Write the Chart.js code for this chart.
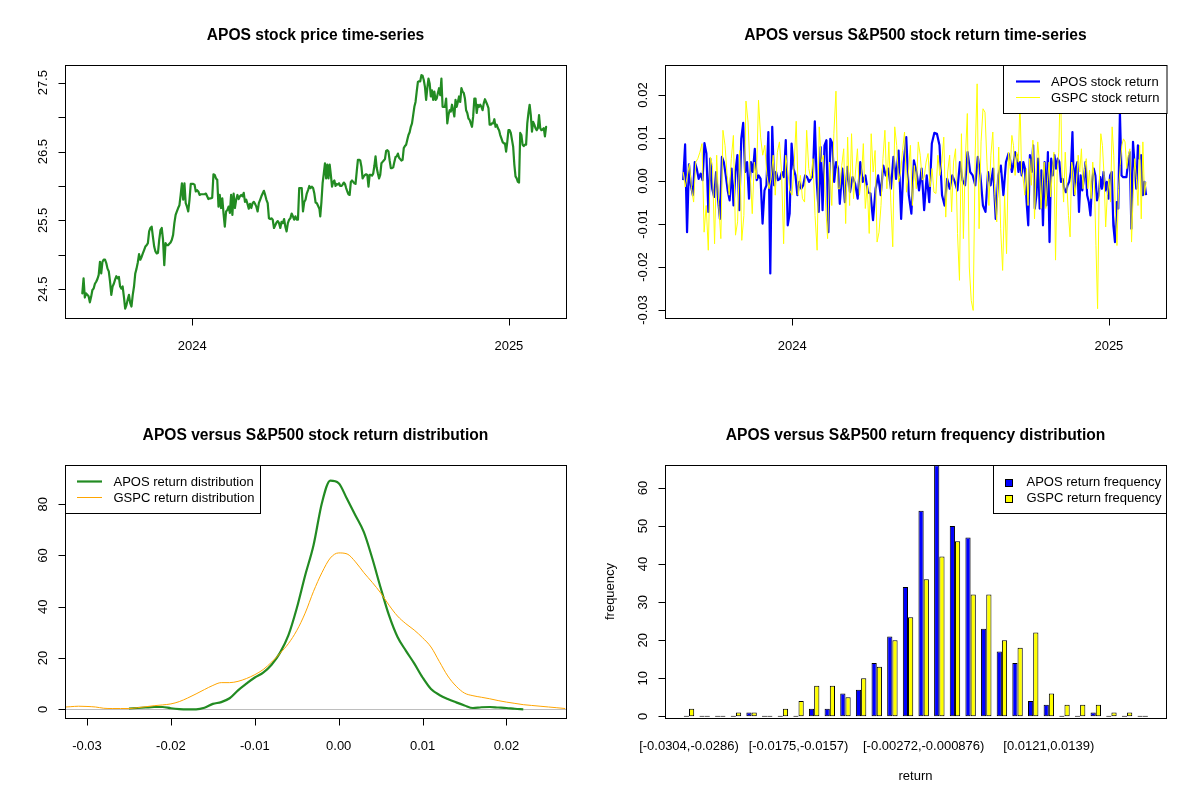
<!DOCTYPE html>
<html lang="en">
<head>
<meta charset="UTF-8">
<title>APOS versus S&amp;P500</title>
<script src="https://cdn.jsdelivr.net/npm/chart.js@4.4.1/dist/chart.umd.min.js"></script>
<style>
    * { margin: 0; padding: 0; box-sizing: border-box; }
    body { width: 1200px; height: 800px; background: #fff; overflow: hidden; position: relative; }
    .panel { position: absolute; width: 600px; height: 400px; }
    canvas { display: block; }
</style>
</head>
<body>
<div class="panel" style="left:0;top:0"><canvas id="priceChart" width="600" height="400"></canvas></div>
<div class="panel" style="left:600px;top:0"><canvas id="returnChart" width="600" height="400"></canvas></div>
<div class="panel" style="left:0;top:400px"><canvas id="densityChart" width="600" height="400"></canvas></div>
<div class="panel" style="left:600px;top:400px"><canvas id="freqChart" width="600" height="400"></canvas></div>

<script>
// ---------- data ----------
// APOS closing price, two stretches (values spread evenly between the dates)
const priceDatesA = ['2023-08-27', '2024-05-27'];
const priceA = [
    24.44, 24.66, 24.38, 24.44, 24.42, 24.40, 24.31, 24.39, 24.49, 24.51,
    24.58, 24.61, 24.65, 24.71, 24.90, 24.73, 24.90, 24.93, 24.93, 24.88,
    24.80, 24.76, 24.61, 24.42, 24.54, 24.58, 24.64, 24.69, 24.66, 24.68,
    24.54, 24.51, 24.54, 24.39, 24.22, 24.27, 24.35, 24.42, 24.30, 24.25,
    24.42, 24.54, 24.73, 24.80, 24.89, 25.01, 24.93, 24.97, 25.02, 25.07,
    25.12, 25.14, 25.17, 25.34, 25.39, 25.41, 25.26, 25.12, 25.05, 25.02,
    25.03, 25.22, 25.36, 25.39, 25.22, 24.85, 25.17, 25.14, 25.14, 25.16,
    25.18, 25.22, 25.29, 25.46, 25.58, 25.63, 25.68, 25.72, 25.87, 26.04,
    25.80, 26.04, 25.75, 25.70, 25.63, 25.80, 26.03, 26.03, 26.03, 26.02,
    25.92, 25.94, 25.92, 25.87, 25.88, 25.88, 25.88, 25.88, 25.89, 25.85,
    25.81, 25.82, 25.82, 25.83, 26.17, 26.16, 26.11, 26.09, 25.70, 25.87,
    25.68, 25.82, 25.60, 25.41, 25.63, 25.65, 25.70, 25.61, 25.87, 25.58,
    25.89, 25.68, 25.80, 25.87, 25.81, 25.85, 25.87, 25.85, 25.90, 25.77,
    25.80, 25.74, 25.67, 25.74, 25.68, 25.75, 25.77, 25.74, 25.70, 25.63,
    25.75, 25.80, 25.85, 25.89, 25.93, 25.87, 25.80, 25.75, 25.53, 25.52,
    25.53, 25.51, 25.39, 25.43, 25.47, 25.49, 25.46, 25.39, 25.48, 25.46,
    25.52, 25.41, 25.34, 25.46, 25.51, 25.53, 25.60, 25.56, 25.51, 25.56,
    25.51, 25.51, 25.97, 25.97, 25.97, 25.63, 25.77, 25.80, 25.89, 25.94,
    26.00, 25.97, 25.99, 25.97, 25.89, 25.76, 25.75, 25.71, 25.67
];
const priceDatesB = ['2024-05-28', '2025-02-13'];
const priceB = [
    25.56, 25.77, 26.04, 26.18, 26.33, 26.11, 26.31, 26.11, 26.31, 26.16,
    25.99, 26.06, 26.08, 26.00, 26.03, 26.02, 26.04, 26.00, 26.00, 26.02,
    26.05, 26.03, 25.97, 25.92, 25.88, 25.87, 26.06, 26.08, 26.06, 26.04,
    26.03, 26.21, 26.38, 26.38, 26.37, 26.28, 26.11, 26.14, 26.16, 26.17,
    26.16, 25.99, 26.16, 26.16, 26.15, 26.18, 26.29, 26.43, 26.26, 26.18,
    26.11, 26.16, 26.33, 26.35, 26.37, 26.39, 26.51, 26.52, 26.50, 26.37,
    26.26, 26.26, 26.27, 26.35, 26.42, 26.43, 26.47, 26.41, 26.39, 26.37,
    26.38, 26.55, 26.58, 26.60, 26.67, 26.74, 26.78, 26.86, 26.91, 27.03,
    27.15, 27.22, 27.37, 27.51, 27.52, 27.52, 27.61, 27.60, 27.54, 27.44,
    27.25, 27.42, 27.56, 27.49, 27.30, 27.39, 27.25, 27.37, 27.25, 27.27,
    27.35, 27.42, 27.32, 27.56, 27.15, 27.15, 27.15, 27.27, 26.91, 27.03,
    27.10, 27.08, 27.18, 27.10, 27.01, 27.25, 27.15, 27.22, 27.30, 27.22,
    27.42, 27.37, 27.35, 27.27, 27.10, 27.06, 26.98, 26.96, 26.91, 26.86,
    27.01, 27.27, 27.27, 27.06, 27.18, 27.15, 27.18, 27.15, 27.10, 27.20,
    27.26, 27.22, 27.18, 27.13, 26.89, 26.89, 26.91, 26.91, 26.97, 26.86,
    26.89, 26.84, 26.81, 26.74, 26.69, 26.64, 26.62, 26.62, 26.50, 26.64,
    26.81, 26.81, 26.77, 26.67, 26.57, 26.31, 26.14, 26.11, 26.06, 26.05,
    26.77, 26.74, 26.60, 26.58, 26.60, 26.60, 26.91, 27.06, 27.18, 27.03,
    26.79, 26.93, 26.89, 26.84, 26.81, 26.84, 27.03, 26.84, 26.81, 26.82,
    26.84, 26.72, 26.86
];

// daily returns, three stretches
const retDates = [['2023-08-28', '2024-02-23'], ['2024-02-25', '2024-09-07'], ['2024-09-09', '2025-02-13']];
const aposRet1 = [
    0.0002, 0.0085, -0.0119, 0.0039, -0.0010, -0.0033, 0.0044, 0.0029, 0.0005, 0.0017,
    0.0002, 0.0088, 0.0064, -0.0072, 0.0052, -0.0018, -0.0037, 0.0021, -0.0041, -0.0088,
    0.0056, 0.0044, 0.0013, -0.0022, -0.0045, 0.0029, -0.0057, 0.0021, 0.0060, -0.0068,
    0.0098, 0.0135, 0.0021, 0.0044, -0.0041, 0.0044, 0.0021, 0.0075, 0.0002, 0.0013,
    0.0005, -0.0099, -0.0022, -0.0010, 0.0114, -0.0215, 0.0126, -0.0010, 0.0021, 0.0002,
    0.0005, 0.0021, 0.0009, 0.0095, -0.0103, -0.0076, 0.0087, 0.0029, 0.0013, -0.0033,
    -0.0002, -0.0018, -0.0010, 0.0013, 0.0009, -0.0002, 0.0005, 0.0013, 0.0139, -0.0002,
    -0.0072, 0.0079, -0.0068, 0.0083, 0.0095, -0.0119, 0.0098, 0.0088, -0.0002, 0.0044,
    0.0029
];
const aposRet2 = [
    -0.0053, 0.0029, -0.0049, 0.0033, -0.0026, 0.0009, -0.0006, -0.0041, 0.0044, -0.0002,
    0.0013, -0.0026, -0.0029, -0.0091, -0.0018, 0.0013, -0.0033, 0.0036, 0.0013, 0.0029,
    -0.0018, 0.0056, 0.0005, 0.0071, -0.0088, 0.0044, 0.0102, -0.0033, -0.0076, 0.0048,
    0.0021, -0.0022, 0.0029, -0.0068, 0.0013, -0.0049, 0.0087, 0.0112, 0.0110, 0.0083,
    -0.0033, -0.0057, 0.0005, -0.0018, 0.0013, -0.0002, -0.0022, 0.0044, 0.0002, -0.0010,
    0.0067, 0.0021, 0.0013, -0.0010, 0.0056, 0.0013, -0.0057, -0.0072, 0.0021, -0.0010,
    0.0029, -0.0088, 0.0013, 0.0036, -0.0033, 0.0044, 0.0064
];
const aposRet3 = [
    0.0048, 0.0021, 0.0040, 0.0067, 0.0060, 0.0021, 0.0044, 0.0013, 0.0044, 0.0029,
    -0.0049, -0.0103, 0.0060, 0.0021, 0.0083, -0.0064, -0.0033, 0.0052, -0.0064, 0.0025,
    -0.0103, 0.0044, -0.0057, 0.0067, -0.0142, 0.0052, 0.0013, 0.0060, 0.0029, 0.0052,
    0.0044, -0.0002, 0.0005, -0.0018, -0.0026, -0.0010, -0.0002, 0.0021, 0.0114, -0.0033,
    0.0029, 0.0044, -0.0072, 0.0013, -0.0022, 0.0005, 0.0044, -0.0033, -0.0049, -0.0080,
    -0.0002, 0.0029, 0.0013, -0.0045, -0.0033, 0.0009, -0.0018, 0.0021, -0.0022, -0.0002,
    -0.0041, 0.0013, 0.0021, -0.0103, -0.0142, -0.0049, -0.0064, 0.0160, 0.0013, 0.0009,
    0.0009, 0.0009, 0.0044, 0.0067, -0.0111, 0.0091, 0.0036, -0.0018, 0.0083, 0.0052,
    0.0060, -0.0033, -0.0002, -0.0033
];
const gspcRet1 = [
    0.0021, -0.0014, 0.0013, 0.0040, -0.0018, -0.0049, 0.0044, 0.0052, 0.0067, 0.0087,
    -0.0119, -0.0057, -0.0161, 0.0056, 0.0036, -0.0146, 0.0060, -0.0057, -0.0134, 0.0118,
    0.0083, 0.0013, -0.0033, 0.0052, 0.0106, -0.0126, -0.0095, 0.0071, -0.0138, -0.0080,
    0.0186, 0.0137, 0.0021, -0.0076, 0.0044, 0.0005, 0.0188, 0.0102, 0.0060, 0.0083,
    0.0013, -0.0018, 0.0005, 0.0060, -0.0033, 0.0067, 0.0091, 0.0021, -0.0146, 0.0060,
    0.0021, -0.0022, -0.0033, 0.0036, 0.0139, -0.0033, 0.0013, -0.0041, -0.0049, 0.0118,
    0.0029, 0.0005, 0.0052, -0.0080, -0.0161, 0.0126, 0.0044, 0.0060, -0.0049, -0.0134,
    0.0044, -0.0057, 0.0110, 0.0209, -0.0018
];
const gspcRet2 = [
    -0.0018, 0.0036, 0.0075, -0.0099, 0.0102, -0.0057, 0.0110, -0.0041, 0.0021, 0.0075,
    -0.0033, 0.0005, 0.0087, -0.0064, -0.0010, -0.0122, 0.0110, 0.0021, 0.0071, -0.0142,
    -0.0119, -0.0057, 0.0052, 0.0118, -0.0018, 0.0091, -0.0049, -0.0153, 0.0126, 0.0083,
    -0.0002, 0.0021, 0.0071, 0.0114, -0.0026, 0.0021, 0.0083, -0.0057, 0.0036, -0.0018,
    0.0091, 0.0060, 0.0002, 0.0009, 0.0044, 0.0064, -0.0014, 0.0029, -0.0026, -0.0029,
    0.0060, 0.0013, 0.0044, 0.0102, -0.0084, 0.0021, 0.0060, -0.0072, 0.0044, 0.0075,
    -0.0122, -0.0231, 0.0110, -0.0134, 0.0052, 0.0157, -0.0200, -0.0278, -0.0301, 0.0060,
    0.0226, -0.0111, 0.0091, 0.0168, 0.0160, 0.0044, -0.0057, 0.0060, 0.0114, -0.0033,
    -0.0095, 0.0079, -0.0111, -0.0208, -0.0033, -0.0169, 0.0067
];
const gspcRet3 = [
    0.0029, 0.0106, 0.0083, 0.0013, 0.0067, 0.0044, 0.0190, 0.0021, 0.0005, -0.0033,
    0.0029, -0.0057, 0.0052, -0.0010, 0.0095, -0.0088, 0.0021, 0.0091, 0.0044, -0.0064,
    0.0005, 0.0044, -0.0064, -0.0002, 0.0044, -0.0037, 0.0021, 0.0067, -0.0184, 0.0021,
    0.0067, 0.0245, 0.0021, -0.0049, 0.0067, -0.0010, -0.0080, -0.0130, 0.0044, 0.0021,
    -0.0033, -0.0002, 0.0060, 0.0021, 0.0075, -0.0018, 0.0029, 0.0052, -0.0018, 0.0025,
    -0.0041, 0.0044, -0.0002, -0.0150, -0.0297, -0.0018, 0.0110, 0.0083, 0.0013, -0.0107,
    -0.0033, 0.0005, -0.0049, 0.0126, 0.0060, -0.0072, -0.0150, -0.0018, 0.0036, 0.0083,
    0.0098, 0.0091, 0.0029, 0.0060, 0.0075, -0.0142, -0.0033, 0.0052, 0.0005, -0.0057,
    0.0083, -0.0088, 0.0091, -0.0033, -0.0002
];

// kernel density estimates
const densX = [
    -0.033, -0.032, -0.031, -0.030, -0.029, -0.028, -0.027, -0.026, -0.025, -0.024,
    -0.023, -0.022, -0.021, -0.020, -0.019, -0.018, -0.017, -0.016, -0.015, -0.014,
    -0.013, -0.012, -0.011, -0.010, -0.009, -0.008, -0.007, -0.006, -0.005, -0.004,
    -0.003, -0.002, -0.001, 0.000, 0.001, 0.002, 0.003, 0.004, 0.005, 0.006,
    0.007, 0.008, 0.009, 0.010, 0.011, 0.012, 0.013, 0.014, 0.015, 0.016,
    0.017, 0.018, 0.019, 0.020, 0.021, 0.022, 0.023, 0.024, 0.025, 0.026, 0.027
];
const aposDens = [
    null, null, null, null, null, null, null, null, 0.3, 0.5,
    0.7, 0.9, 0.9, 0.4, 0.1, 0.0, 0.0, 0.6, 2.1, 2.8,
    4.3, 7.4, 10.0, 12.4, 14.3, 17.4, 22.0, 28.8, 39.4, 52.2,
    64.0, 80.5, 89.2, 88.2, 82.0, 75.6, 69.1, 58.9, 47.4, 36.6,
    28.3, 22.9, 17.9, 12.4, 7.9, 5.6, 4.0, 2.7, 1.5, 0.5,
    0.8, 0.9, 0.7, 0.5, 0.2, 0.0, null, null, null, null, null
];
const gspcDens = [
    0.8, 1.0, 1.2, 1.1, 0.9, 0.4, 0.3, 0.3, 0.3, 0.6,
    1.0, 1.4, 1.7, 2.1, 3.0, 4.4, 6.0, 7.7, 9.3, 10.4,
    10.4, 10.9, 12.0, 13.5, 15.5, 18.4, 21.8, 25.6, 30.7, 37.5,
    46.0, 53.3, 59.0, 61.0, 60.6, 57.5, 53.3, 49.5, 45.4, 40.6,
    36.4, 33.4, 30.9, 27.9, 24.3, 18.6, 13.0, 9.0, 6.3, 5.3,
    4.7, 4.1, 3.4, 2.8, 2.3, 1.8, 1.5, 1.2, 0.9, 0.6, 0.3
];

// return frequency per bin
const binEdges = [
    '-0.0304', '-0.0286', '-0.0267', '-0.0249', '-0.023', '-0.0212', '-0.0193', '-0.0175',
    '-0.0157', '-0.0138', '-0.012', '-0.0101', '-0.00827', '-0.00642', '-0.00458', '-0.00272',
    '-0.000876', '0.000968', '0.00281', '0.00465', '0.00649', '0.00834', '0.0102', '0.0121',
    '0.0139', '0.0157', '0.0176', '0.0194', '0.0213', '0.0231', '0.025'
];
const aposFreq = [0, 0, 0, 0, 1, 0, 0, 0, 2, 2, 6, 7, 14, 21, 34, 54, 66, 50, 47, 23, 17, 14, 4, 3, 0, 0, 1, 0, 0, 0];
const gspcFreq = [2, 0, 0, 1, 1, 0, 2, 4, 8, 8, 5, 10, 13, 20, 26, 36, 42, 46, 32, 32, 20, 18, 22, 6, 3, 3, 3, 1, 1, 0];
const shownBins = [1, 8, 16, 24];

// axis ticks
const yearTicks = ['2024-01-01', '2025-01-01'];
const yearLabels = ['2024', '2025'];
const priceTicks = [24.5, 25, 25.5, 26, 26.5, 27, 27.5];
const priceTickLabels = ['24.5', '', '25.5', '', '26.5', '', '27.5'];
const retTicks = [-0.03, -0.02, -0.01, 0, 0.01, 0.02];
const retTickLabels = ['-0.03', '-0.02', '-0.01', '0.00', '0.01', '0.02'];
const densTicks = [0, 20, 40, 60, 80];
const freqTicks = [0, 10, 20, 30, 40, 50, 60];

// ---------- drawing ----------
const FONT = '"Liberation Sans", Arial, Helvetica, sans-serif';
const AREA = { left: 65, top: 65, right: 566, bottom: 318 };
const PAD = { left: AREA.left, top: AREA.top, right: 600 - AREA.right, bottom: 400 - AREA.bottom };
const timeRange = ['2023-08-07', '2025-03-08'];

function ms(d) { return Date.parse(d + 'T00:00:00Z'); }

function spread(values, dates) {
    const t0 = ms(dates[0]), t1 = ms(dates[1]), n = values.length;
    return values.map((v, i) => ({ x: t0 + (t1 - t0) * i / (n - 1), y: v }));
}

function baseOptions(xr, yr) {
    return {
        responsive: false,
        animation: false,
        devicePixelRatio: 1,
        layout: { padding: PAD },
        plugins: { legend: { display: false }, tooltip: { enabled: false } },
        scales: {
            x: { type: 'linear', display: false, min: xr[0], max: xr[1], offset: false },
            y: { type: 'linear', display: false, min: yr[0], max: yr[1] }
        },
        elements: { point: { radius: 0 }, line: { tension: 0 } }
    };
}

// R style box, ticks, labels and legend
function rFrame(spec) {
    return {
        id: 'rFrame',
        beforeDatasetsDraw(chart) {
            if (!spec.zeroLine) return;
            const { ctx, chartArea: a, scales } = chart;
            const py = Math.round(scales.y.getPixelForValue(0)) + 0.5;
            ctx.save();
            ctx.strokeStyle = '#BEBEBE';
            ctx.lineWidth = 1;
            ctx.beginPath();
            ctx.moveTo(a.left, py);
            ctx.lineTo(a.right, py);
            ctx.stroke();
            ctx.restore();
        },
        afterDraw(chart) {
            const { ctx, chartArea: a, scales } = chart;
            const L = Math.round(a.left) + 0.5, T = Math.round(a.top) + 0.5;
            const R = Math.round(a.right) + 0.5, B = Math.round(a.bottom) + 0.5;
            const cx = (a.left + a.right) / 2;
            ctx.save();
            ctx.fillStyle = '#000';
            ctx.strokeStyle = '#000';
            ctx.lineWidth = 1;

            // title
            ctx.font = 'bold 15.6px ' + FONT;
            ctx.textAlign = 'center';
            ctx.textBaseline = 'alphabetic';
            ctx.fillText(spec.title, cx, 40);

            ctx.font = '13px ' + FONT;
            // x axis
            spec.xTicks.forEach((v, i) => {
                const px = scales.x.getPixelForValue(v);
                if (spec.xTickMarks !== false) {
                    const xx = Math.round(px) + 0.5;
                    ctx.beginPath(); ctx.moveTo(xx, B); ctx.lineTo(xx, B + 7); ctx.stroke();
                }
                if (spec.xLabels[i]) ctx.fillText(spec.xLabels[i], px, 350);
            });
            // y axis, rotated labels
            spec.yTicks.forEach((v, i) => {
                const py = scales.y.getPixelForValue(v);
                const yy = Math.round(py) + 0.5;
                ctx.beginPath(); ctx.moveTo(L - 7, yy); ctx.lineTo(L, yy); ctx.stroke();
                if (spec.yLabels[i]) {
                    ctx.save();
                    ctx.translate(46.5, py);
                    ctx.rotate(-Math.PI / 2);
                    ctx.fillText(spec.yLabels[i], 0, 0);
                    ctx.restore();
                }
            });
            if (spec.xTitle) ctx.fillText(spec.xTitle, cx, 380);
            if (spec.yTitle) {
                ctx.save();
                ctx.translate(14, (a.top + a.bottom) / 2);
                ctx.rotate(-Math.PI / 2);
                ctx.fillText(spec.yTitle, 0, 0);
                ctx.restore();
            }

            // box
            ctx.strokeRect(L, T, R - L, B - T);

            // legend
            const lg = spec.legend;
            if (lg) {
                const lx = Math.round(lg.left) + 0.5, ly = T;
                ctx.fillStyle = '#fff';
                ctx.fillRect(lx, ly, lg.width, 48);
                ctx.strokeStyle = '#000';
                ctx.strokeRect(lx, ly, lg.width, 48);
                ctx.textAlign = 'left';
                ctx.textBaseline = 'middle';
                lg.items.forEach((it, k) => {
                    const ry = ly + 16.5 + k * 16;
                    if (it.kind === 'box') {
                        ctx.fillStyle = it.color;
                        ctx.fillRect(lx + 12, Math.round(ry - 3.5) + 0.5, 7, 7);
                        ctx.strokeStyle = '#000';
                        ctx.strokeRect(lx + 12, Math.round(ry - 3.5) + 0.5, 7, 7);
                    } else {
                        ctx.strokeStyle = it.color;
                        ctx.lineWidth = it.lineWidth;
                        ctx.beginPath();
                        ctx.moveTo(lx + lg.lineFrom, ry - 0.5);
                        ctx.lineTo(lx + lg.lineTo, ry - 0.5);
                        ctx.stroke();
                        ctx.lineWidth = 1;
                    }
                    ctx.fillStyle = '#000';
                    ctx.fillText(it.label, lx + lg.textX, ry + 0.5);
                });
            }
            ctx.restore();
        }
    };
}

const timeX = [ms(timeRange[0]), ms(timeRange[1])];
const yearTickValues = yearTicks.map(ms);

// panel 1: price
new Chart(document.getElementById('priceChart'), {
    type: 'line',
    data: {
        datasets: [{
            label: 'APOS',
            data: spread(priceA, priceDatesA).concat(spread(priceB, priceDatesB)),
            borderColor: '#228B22',
            borderWidth: 2.2,
            borderJoinStyle: 'round',
            borderCapStyle: 'round',
            clip: 0
        }]
    },
    options: baseOptions(timeX, [24.083, 27.757]),
    plugins: [rFrame({
        title: 'APOS stock price time-series',
        xTicks: yearTickValues, xLabels: yearLabels,
        yTicks: priceTicks, yLabels: priceTickLabels
    })]
});

// panel 2: returns
function joinSegments(segs) {
    return segs.reduce((all, s, i) => all.concat(spread(s, retDates[i])), []);
}
new Chart(document.getElementById('returnChart'), {
    type: 'line',
    data: {
        datasets: [
            {
                label: 'APOS stock return',
                data: joinSegments([aposRet1, aposRet2, aposRet3]),
                borderColor: '#0000FF',
                borderWidth: 2.2,
                borderJoinStyle: 'round',
                order: 1,
                clip: 0
            },
            {
                label: 'GSPC stock return',
                data: joinSegments([gspcRet1, gspcRet2, gspcRet3]),
                borderColor: '#FFFF00',
                borderWidth: 1,
                order: 0,
                clip: 0
            }
        ]
    },
    options: baseOptions(timeX, [-0.03186, 0.02698]),
    plugins: [rFrame({
        title: 'APOS versus S&P500 stock return time-series',
        xTicks: yearTickValues, xLabels: yearLabels,
        yTicks: retTicks, yLabels: retTickLabels,
        legend: {
            left: 402.5, width: 163.5, lineFrom: 12.5, lineTo: 36.5, textX: 47.5,
            items: [
                { label: 'APOS stock return', color: '#0000FF', lineWidth: 2.2 },
                { label: 'GSPC stock return', color: '#FFFF00', lineWidth: 1 }
            ]
        }
    })]
});

// panel 3: density
new Chart(document.getElementById('densityChart'), {
    type: 'line',
    data: {
        datasets: [
            {
                label: 'APOS return distribution',
                data: densX.map((x, i) => ({ x: x, y: aposDens[i] })),
                borderColor: '#228B22',
                borderWidth: 2.2,
                cubicInterpolationMode: 'monotone',
                order: 1,
                clip: 0
            },
            {
                label: 'GSPC return distribution',
                data: densX.map((x, i) => ({ x: x, y: gspcDens[i] })),
                borderColor: '#FFA500',
                borderWidth: 1,
                cubicInterpolationMode: 'monotone',
                order: 0,
                clip: 0
            }
        ]
    },
    options: baseOptions([-0.032622, 0.027092], [-3.4, 95.3]),
    plugins: [rFrame({
        title: 'APOS versus S&P500 stock return distribution',
        xTicks: retTicks, xLabels: retTickLabels,
        yTicks: densTicks, yLabels: densTicks.map(String),
        zeroLine: true,
        legend: {
            left: 65, width: 195, lineFrom: 11.5, lineTo: 36.5, textX: 48,
            items: [
                { label: 'APOS return distribution', color: '#228B22', lineWidth: 2.2 },
                { label: 'GSPC return distribution', color: '#FFA500', lineWidth: 1 }
            ]
        }
    })]
});

// panel 4: frequency bars
const binLabels = aposFreq.map((_, i) => '[' + binEdges[i] + ',' + binEdges[i + 1] + ')');
const barStyle = {
    borderColor: '#000000',
    borderWidth: 1,
    borderSkipped: false,
    minBarLength: 1,
    categoryPercentage: 2 / 3,
    barPercentage: 1
};
new Chart(document.getElementById('freqChart'), {
    type: 'bar',
    data: {
        datasets: [
            Object.assign({
                label: 'APOS return frequency',
                data: aposFreq.map((v, i) => ({ x: i + 1, y: v })),
                backgroundColor: '#0000FF'
            }, barStyle),
            Object.assign({
                label: 'GSPC return frequency',
                data: gspcFreq.map((v, i) => ({ x: i + 1, y: v })),
                backgroundColor: '#FFFF00'
            }, barStyle)
        ]
    },
    options: baseOptions([-0.534, 31.489], [-0.45, 66.05]),
    plugins: [rFrame({
        title: 'APOS versus S&P500 return frequency distribution',
        xTicks: shownBins, xLabels: shownBins.map(b => binLabels[b - 1]), xTickMarks: false,
        yTicks: freqTicks, yLabels: freqTicks.map(String),
        xTitle: 'return', yTitle: 'frequency',
        legend: {
            left: 393.3, width: 173, textX: 33,
            items: [
                { label: 'APOS return frequency', color: '#0000FF', kind: 'box' },
                { label: 'GSPC return frequency', color: '#FFFF00', kind: 'box' }
            ]
        }
    })]
});
</script>
</body>
</html>
